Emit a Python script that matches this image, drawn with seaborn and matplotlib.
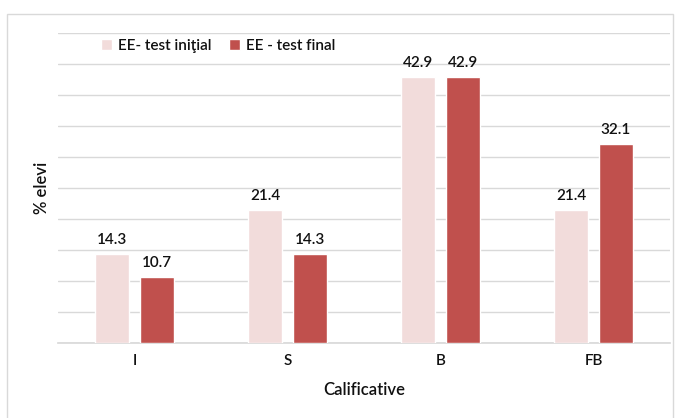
import matplotlib
matplotlib.use("Agg")
import matplotlib.pyplot as plt
import seaborn as sns
import pandas as pd
from matplotlib.patches import Rectangle

categories = ["I", "S", "B", "FB"]
series_names = ["EE- test iniţial", "EE - test final"]
initial_values = [14.3, 21.4, 42.9, 21.4]
final_values = [10.7, 14.3, 42.9, 32.1]
colors = ["#F2DCDB", "#C0504D"]

df = pd.DataFrame({
    "Calificative": categories * 2,
    "value": initial_values + final_values,
    "series": [series_names[0]] * 4 + [series_names[1]] * 4,
})

sns.set_theme(style="white")
plt.rcParams["font.family"] = ["Lato", "DejaVu Sans"]

fig = plt.figure(figsize=(6.8, 4.18), dpi=100)
ax = fig.add_axes([58/680, 1-343/418, (670-58)/680, (343-33)/418])

sns.barplot(data=df, x="Calificative", y="value", hue="series", order=categories,
            hue_order=series_names, palette=colors, width=0.58, gap=0.24,
            saturation=1, ax=ax, zorder=3)

txt = "#111111"
ax.set_ylim(0, 50)
ax.set_xlim(-0.5, 3.5)
ax.set_yticks(range(0, 51, 5))
ax.set_yticklabels([])
ax.tick_params(axis="y", length=0)
ax.tick_params(axis="x", length=0, labelsize=11, labelcolor=txt, pad=8)
for t in ax.get_xticklabels():
    t.set_fontweight("semibold")
ax.grid(axis="y", color="#D9D9D9", linewidth=1, zorder=0)
for s in ["top", "right", "left"]:
    ax.spines[s].set_visible(False)
ax.spines["bottom"].set_color("#D9D9D9")

for cont in ax.containers:
    ax.bar_label(cont, fmt="%.1f", padding=5, fontsize=11, color=txt, fontweight="semibold")

ax.set_xlabel("Calificative", fontsize=12, color=txt, labelpad=10, fontweight="semibold")
ax.set_ylabel("% elevi", fontsize=12, color=txt, labelpad=2, fontweight="semibold")

leg = ax.legend(loc="upper left", bbox_to_anchor=(0.06, 1.0), ncol=2, frameon=False,
                fontsize=11, handlelength=0.7, handleheight=0.7, handletextpad=0.4,
                columnspacing=1.2, borderaxespad=0)
for t in leg.get_texts():
    t.set_color(txt)
    t.set_fontweight("semibold")

fig.patches.append(Rectangle((7/680, -0.1), (673-7)/680, 1.1 - 14/418,
                             transform=fig.transFigure, fill=False,
                             edgecolor="#D9D9D9", linewidth=1))

fig.savefig("out.png", dpi=100, facecolor="white")
